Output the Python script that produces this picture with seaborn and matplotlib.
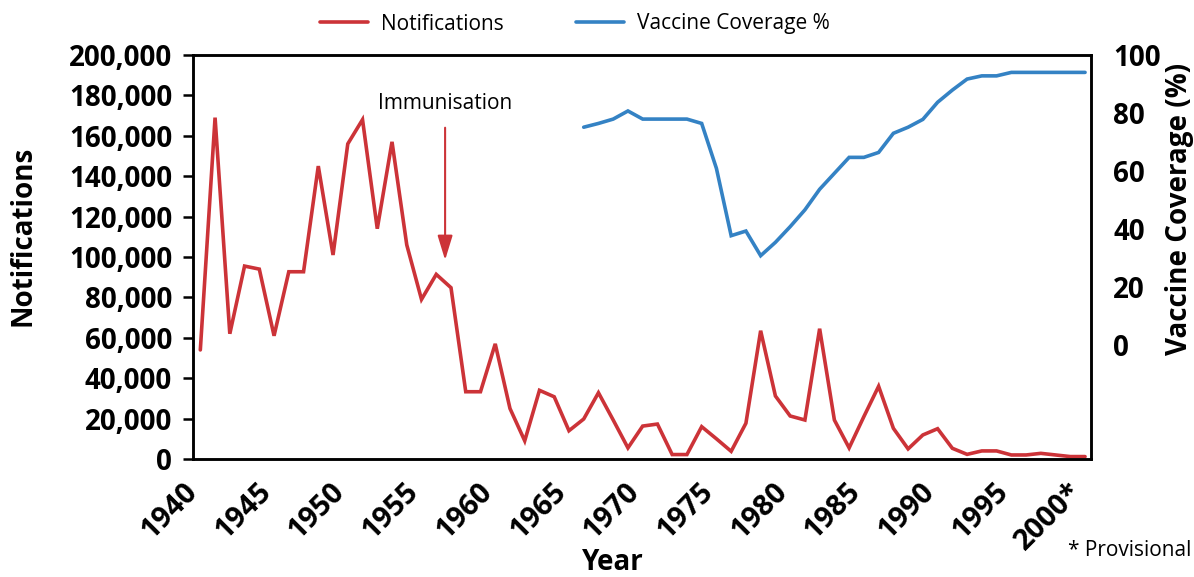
import pandas as pd
import matplotlib.pyplot as plt
import seaborn as sns
from matplotlib.ticker import FuncFormatter

# Notifications per year (1940-2000)
note_years = list(range(1940, 2001))
notifications = [54000, 169000, 62000, 95500, 94000, 61000, 92700, 92700, 145000, 101000,
                 156000, 168000, 114000, 157000, 106000, 79000, 91400, 84800, 33300, 33300,
                 57000, 25000, 9000, 34000, 30800, 14000, 19800, 32800, 19300, 5500,
                 16300, 17300, 2200, 2200, 16000, 10000, 3800, 17700, 63500, 31200,
                 21300, 19300, 64500, 19300, 5500, 21000, 36000, 15200, 5000, 11900,
                 15000, 5300, 2300, 4000, 4000, 2000, 2000, 2800, 2000, 1200,
                 1200]

# Vaccine coverage (%) 1966-2000
vacc_years = list(range(1966, 2001))
coverage = [75.1, 76.4, 77.9, 80.7, 77.9, 77.9, 77.9, 77.9, 76.4, 60.9,
            37.7, 39.3, 30.8, 35.4, 40.8, 46.6, 53.7, 59.2, 64.7, 64.7,
            66.4, 73.0, 75.1, 77.8, 83.7, 87.9, 91.7, 92.8, 92.8, 94.0,
            94.0, 94.0, 94.0, 94.0, 94.0]

tick_years = [1940, 1945, 1950, 1955, 1960, 1965, 1970, 1975, 1980, 1985, 1990, 1995, 2000]
tick_labels = ['1940', '1945', '1950', '1955', '1960', '1965', '1970', '1975',
               '1980', '1985', '1990', '1995', '2000*']

RED = '#cc3338'
BLUE = '#3482c4'

sns.set_style('white')
plt.rcParams['font.family'] = ['Open Sans', 'DejaVu Sans']
plt.rcParams['text.color'] = 'black'
plt.rcParams['xtick.color'] = 'black'
plt.rcParams['ytick.color'] = 'black'

df_note = pd.DataFrame({'year': note_years, 'notifications': notifications})
df_vacc = pd.DataFrame({'year': vacc_years, 'coverage': coverage})

fig = plt.figure(figsize=(11.94, 5.77), dpi=100)
ax = fig.add_axes([0.1616, 0.2045, 0.7521, 0.7002])
ax2 = ax.twinx()

sns.lineplot(data=df_note, x='year', y='notifications', ax=ax, color=RED,
             linewidth=2.6, label='Notifications', legend=False)
sns.lineplot(data=df_vacc, x='year', y='coverage', ax=ax2, color=BLUE,
             linewidth=2.6, label='Vaccine Coverage %', legend=False)
for line in ax.get_lines() + ax2.get_lines():
    line.set_solid_joinstyle('miter')

# axes ranges
ax.set_xlim(1939.5, 2000.4)
ax.set_ylim(0, 200000)
ax2.set_ylim(-39.3, 100)

# x ticks sit half a year before each data point (category-style axis)
ax.set_xticks([y - 0.5 for y in tick_years])
ax.set_xticklabels(tick_labels, rotation=45, ha='right', va='center',
                   rotation_mode='anchor', fontsize=21, fontweight='bold')
ax.tick_params(axis='x', direction='inout', length=13, width=1.8, pad=14)

ax.set_yticks(range(0, 200001, 20000))
ax.yaxis.set_major_formatter(FuncFormatter(lambda v, p: f'{int(v):,}'))
ax.tick_params(axis='y', direction='out', length=7, width=1.8, pad=8, labelsize=20)
for t in ax.get_yticklabels():
    t.set_fontweight('bold')

ax2.set_yticks([0, 20, 40, 60, 80, 100])
ax2.tick_params(axis='y', length=0, pad=16, labelsize=20)
for t in ax2.get_yticklabels():
    t.set_fontweight('bold')

for a in (ax, ax2):
    for s in a.spines.values():
        s.set_visible(True)
        s.set_linewidth(1.8)
        s.set_color('black')

ax.set_xlabel('')
ax.set_ylabel('')
ax2.set_ylabel('')
fig.text(23.5 / 1194, 1 - 236 / 577, 'Notifications', rotation=90, ha='center', va='center',
         fontsize=20, fontweight='bold')
fig.text(1179 / 1194, 1 - 209 / 577, 'Vaccine Coverage (%)', rotation=90, ha='center',
         va='center', fontsize=20, fontweight='bold')
fig.text(613 / 1194, 1 - 562 / 577, 'Year', ha='center', va='center',
         fontsize=20, fontweight='bold')
fig.text(1130 / 1194, 1 - 550 / 577, '* Provisional', ha='center', va='center', fontsize=15)

# immunisation marker
ax.annotate('', xy=(1956.6, 98500), xytext=(1956.6, 164000),
            arrowprops=dict(arrowstyle='-|>,head_length=0.75,head_width=0.23',
                            color=RED, lw=1.5, mutation_scale=20, shrinkA=0, shrinkB=0))
ax.text(1956.6, 176000, 'Immunisation', ha='center', va='center', fontsize=15)

handles = ax.get_lines()[:1] + ax2.get_lines()[:1]
fig.legend(handles, ['Notifications', 'Vaccine Coverage %'], loc='center',
           bbox_to_anchor=(575 / 1194, 1 - 24 / 577), ncol=2, frameon=False,
           fontsize=15, handlelength=2.3, handletextpad=0.6, columnspacing=3.5)

fig.savefig('out.png', dpi=100)
